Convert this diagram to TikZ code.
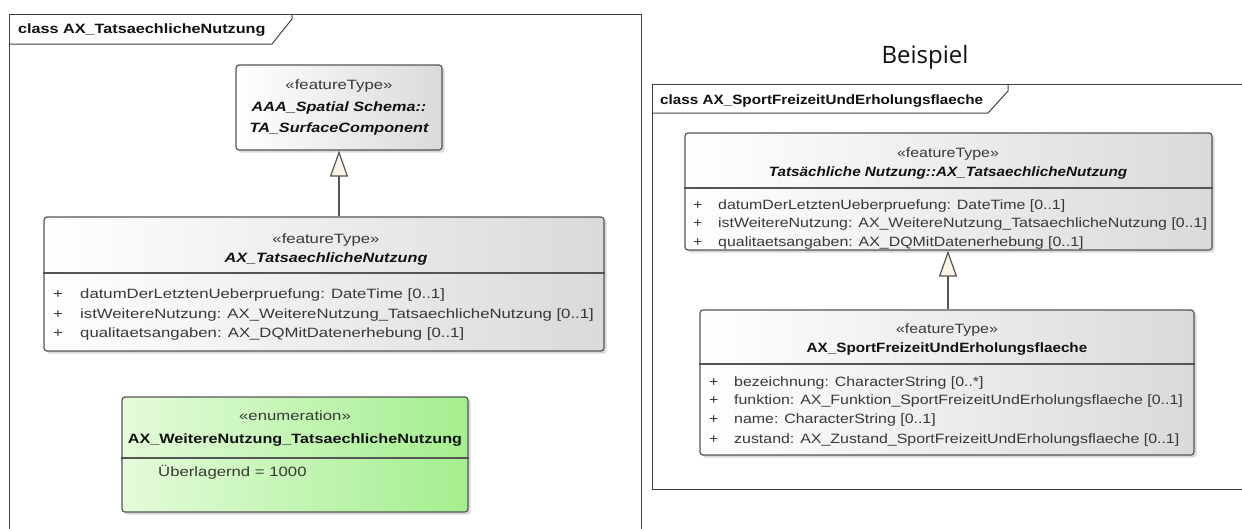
\documentclass[tikz,border=0pt]{standalone}
\usepackage{fontspec}
\setmainfont{Liberation Sans}
\newfontfamily\umlnarrow[FakeStretch=1.18]{Liberation Sans}
\newfontfamily\umlwide[FakeStretch=1.24]{Liberation Sans}
\newfontfamily\umlboldnarrow[FakeStretch=1.13]{Liberation Sans}
\newfontfamily\umlboldwide[FakeStretch=1.2]{Liberation Sans}
\newfontfamily\titlefont{Open Sans}
\usepackage{xcolor}
\definecolor{framegray}{HTML}{404040}
\definecolor{boxgray}{HTML}{555555}
\definecolor{textgray}{HTML}{383838}
\definecolor{namegray}{HTML}{111111}
\definecolor{shadegray}{HTML}{DADADA}
\definecolor{enumlight}{HTML}{E4FBDA}
\definecolor{enumdark}{HTML}{A3EF8E}
\definecolor{genfill}{HTML}{FBF3E4}
\usetikzlibrary{arrows.meta}
\usetikzlibrary{shadows}

\let\umlfam\umlnarrow
\let\umlboldfam\umlboldnarrow
\tikzset{
    frameline/.style={draw=framegray, line width=1pt},
    classbox/.style={draw=boxgray, line width=1.2pt, rounded corners=3pt, inner sep=0pt,
        left color=white, right color=shadegray,
        drop shadow={shadow xshift=2.5pt, shadow yshift=-2.5pt, opacity=0.3, fill=gray}},
    enumbox/.style={classbox, left color=enumlight, right color=enumdark},
    tabtext/.style={anchor=base west, inner sep=0pt, text=namegray,
        font=\umlboldfam\fontsize{13.5}{16}\selectfont\bfseries},
    stereo/.style={anchor=base, inner sep=0pt, text=textgray,
        font=\umlfam\fontsize{13.5}{16}\selectfont},
    classname/.style={anchor=base, inner sep=0pt, text=namegray,
        font=\umlboldfam\fontsize{13.5}{16}\selectfont\bfseries},
    abstractname/.style={classname,
        font=\umlboldfam\fontsize{13.5}{16}\selectfont\bfseries\itshape},
    attr/.style={anchor=base west, inner sep=0pt, text=textgray,
        font=\umlfam\fontsize{13.5}{16}\selectfont},
    separator/.style={draw=boxgray, line width=1.2pt},
    generalize/.style={draw=boxgray, line width=1.2pt,
        -{Triangle[length=26pt, width=18pt, fill=genfill]}}
}

\begin{document}
\begin{tikzpicture}[x=1pt, y=-1pt]
    \fill[white] (0,0) rectangle (1242,528);
    \useasboundingbox (0,0) rectangle (1242,528);

    % class AX_TatsaechlicheNutzung
    \begin{scope}
        \let\umlfam\umlwide
        \let\umlboldfam\umlboldwide
        \draw[frameline] (9,540) -- (9,14) -- (641,14) -- (641,540);
        \draw[frameline] (9,44) -- (272,44) -- (292,19) -- (292,14);
        \node[tabtext] (lefttab) at (18,33) {class AX\_TatsaechlicheNutzung};

        \node[classbox, minimum width=206pt, minimum height=85pt] (surface) at (339,107.5) {};
        \node[stereo] (surfacest) at (339,89) {«featureType»};
        \node[abstractname] (surfacepkg) at (339,111) {AAA\_Spatial Schema::};
        \node[abstractname] (surfacename) at (339,132) {TA\_SurfaceComponent};

        \node[classbox, minimum width=560pt, minimum height=134pt] (nutzung) at (324,284) {};
        \node[stereo] (nutzungst) at (326,243) {«featureType»};
        \node[abstractname] (nutzungname) at (326,262) {AX\_TatsaechlicheNutzung};
        \draw[separator] (nutzung.west |- 0,273) -- (nutzung.east |- 0,273);
        \foreach \y/\attr in {298/{datumDerLetztenUeberpruefung: DateTime [0..1]},
                318/{istWeitereNutzung: AX\_WeitereNutzung\_TatsaechlicheNutzung [0..1]},
                337/{qualitaetsangaben: AX\_DQMitDatenerhebung [0..1]}} {
            \node[attr] (nutzungplus\y) at (53,\y) {+};
            \node[attr] (nutzungattr\y) at (80,\y) {\attr};
        }

        \node[enumbox, minimum width=346pt, minimum height=115pt] (weitere) at (295,454.5) {};
        \node[stereo] (weiterest) at (295,420) {«enumeration»};
        \node[classname] (weiterename) at (295,443) {AX\_WeitereNutzung\_TatsaechlicheNutzung};
        \draw[separator] (weitere.west |- 0,458) -- (weitere.east |- 0,458);
        \node[attr] (weitereattr) at (158,476) {Überlagernd = 1000};

        \draw[generalize] (surface.south |- nutzung.north) -- (surface.south);
    \end{scope}

    \node[anchor=base, inner sep=0pt, text=namegray, font=\titlefont\fontsize{24}{28}\selectfont]
        (beispiel) at (925,63) {Beispiel};

    % class AX_SportFreizeitUndErholungsflaeche
    \draw[frameline] (1250,84) -- (652,84) -- (652,489) -- (1250,489);
    \draw[frameline] (652,113) -- (988,113) -- (1008,91) -- (1008,84);
    \node[tabtext] (righttab) at (660,104) {class AX\_SportFreizeitUndErholungsflaeche};

    \node[classbox, minimum width=527pt, minimum height=117pt] (nutzungref) at (948.5,191.5) {};
    \node[stereo] (nutzungrefst) at (948,157) {«featureType»};
    \node[abstractname] (nutzungrefname) at (948,176) {Tatsächliche Nutzung::AX\_TatsaechlicheNutzung};
    \draw[separator] (nutzungref.west |- 0,188) -- (nutzungref.east |- 0,188);
    \foreach \y/\attr in {209/{datumDerLetztenUeberpruefung: DateTime [0..1]},
            227/{istWeitereNutzung: AX\_WeitereNutzung\_TatsaechlicheNutzung [0..1]},
            246/{qualitaetsangaben: AX\_DQMitDatenerhebung [0..1]}} {
        \node[attr] (nutzungrefplus\y) at (693,\y) {+};
        \node[attr] (nutzungrefattr\y) at (718,\y) {\attr};
    }

    \node[classbox, minimum width=494pt, minimum height=145pt] (sport) at (947,382.5) {};
    \node[stereo] (sportst) at (947,333) {«featureType»};
    \node[classname] (sportname) at (947,352) {AX\_SportFreizeitUndErholungsflaeche};
    \draw[separator] (sport.west |- 0,364) -- (sport.east |- 0,364);
    \foreach \y/\attr in {386/{bezeichnung: CharacterString [0..*]},
            404/{funktion: AX\_Funktion\_SportFreizeitUndErholungsflaeche [0..1]},
            423/{name: CharacterString [0..1]},
            443/{zustand: AX\_Zustand\_SportFreizeitUndErholungsflaeche [0..1]}} {
        \node[attr] (sportplus\y) at (709,\y) {+};
        \node[attr] (sportattr\y) at (734,\y) {\attr};
    }

    \draw[generalize] (sport.north -| 948,0) -- (nutzungref.south -| 948,0);
\end{tikzpicture}
\end{document}
